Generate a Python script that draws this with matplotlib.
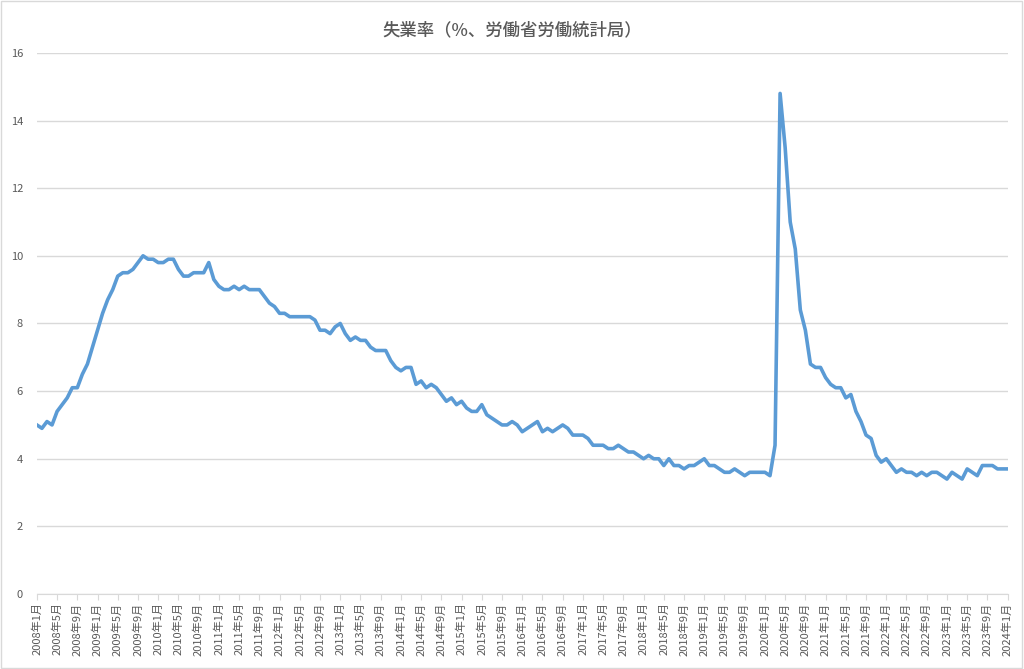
import matplotlib.pyplot as plt
from matplotlib.patches import Rectangle

plt.rcParams['font.family'] = ['Noto Sans CJK JP', 'DejaVu Sans']

# US unemployment rate, monthly, 2008-01 .. 2024-01
rate = [
    5.0, 4.9, 5.1, 5.0, 5.4, 5.6, 5.8, 6.1, 6.1, 6.5, 6.8, 7.3,   # 2008
    7.8, 8.3, 8.7, 9.0, 9.4, 9.5, 9.5, 9.6, 9.8, 10.0, 9.9, 9.9,  # 2009
    9.8, 9.8, 9.9, 9.9, 9.6, 9.4, 9.4, 9.5, 9.5, 9.5, 9.8, 9.3,   # 2010
    9.1, 9.0, 9.0, 9.1, 9.0, 9.1, 9.0, 9.0, 9.0, 8.8, 8.6, 8.5,   # 2011
    8.3, 8.3, 8.2, 8.2, 8.2, 8.2, 8.2, 8.1, 7.8, 7.8, 7.7, 7.9,   # 2012
    8.0, 7.7, 7.5, 7.6, 7.5, 7.5, 7.3, 7.2, 7.2, 7.2, 6.9, 6.7,   # 2013
    6.6, 6.7, 6.7, 6.2, 6.3, 6.1, 6.2, 6.1, 5.9, 5.7, 5.8, 5.6,   # 2014
    5.7, 5.5, 5.4, 5.4, 5.6, 5.3, 5.2, 5.1, 5.0, 5.0, 5.1, 5.0,   # 2015
    4.8, 4.9, 5.0, 5.1, 4.8, 4.9, 4.8, 4.9, 5.0, 4.9, 4.7, 4.7,   # 2016
    4.7, 4.6, 4.4, 4.4, 4.4, 4.3, 4.3, 4.4, 4.3, 4.2, 4.2, 4.1,   # 2017
    4.0, 4.1, 4.0, 4.0, 3.8, 4.0, 3.8, 3.8, 3.7, 3.8, 3.8, 3.9,   # 2018
    4.0, 3.8, 3.8, 3.7, 3.6, 3.6, 3.7, 3.6, 3.5, 3.6, 3.6, 3.6,   # 2019
    3.6, 3.5, 4.4, 14.8, 13.2, 11.0, 10.2, 8.4, 7.8, 6.8, 6.7, 6.7,  # 2020
    6.4, 6.2, 6.1, 6.1, 5.8, 5.9, 5.4, 5.1, 4.7, 4.6, 4.1, 3.9,   # 2021
    4.0, 3.8, 3.6, 3.7, 3.6, 3.6, 3.5, 3.6, 3.5, 3.6, 3.6, 3.5,   # 2022
    3.4, 3.6, 3.5, 3.4, 3.7, 3.6, 3.5, 3.8, 3.8, 3.8, 3.7, 3.7,   # 2023
    3.7,                                                          # 2024
]
months = [f"{2008 + i // 12}年{i % 12 + 1}月" for i in range(len(rate))]

fig = plt.figure(figsize=(10.24, 6.69), dpi=100)
ax = fig.add_axes([0.036, 0.112, 0.948, 0.809])

x = list(range(len(rate)))
ax.plot(x, rate, color='#5B9BD5', linewidth=2.6, solid_joinstyle='round')

ax.set_xlim(0, len(rate) - 1)
ax.set_ylim(0, 16)
ax.set_yticks(range(0, 17, 2))
ax.set_xticks(x[::4])
ax.set_xticklabels(months[::4], rotation=90)

ax.grid(axis='y', color='#D9D9D9', linewidth=1)
ax.set_axisbelow(True)
for side in ['top', 'right', 'left']:
    ax.spines[side].set_visible(False)
ax.spines['bottom'].set_color('#D9D9D9')
ax.tick_params(axis='y', length=0, labelsize=8, labelcolor='#595959', pad=10)
ax.tick_params(axis='x', length=4, color='#D9D9D9', labelsize=8, labelcolor='#595959', pad=2)

fig.suptitle('失業率（%、労働省労働統計局）', y=0.968, fontsize=12.5,
             fontweight='medium', color='#595959')

fig.patches.append(Rectangle((0.001, 0.001), 0.997, 0.997, transform=fig.transFigure,
                             fill=False, edgecolor='#D9D9D9', linewidth=1))

fig.savefig('out.png', dpi=100)
